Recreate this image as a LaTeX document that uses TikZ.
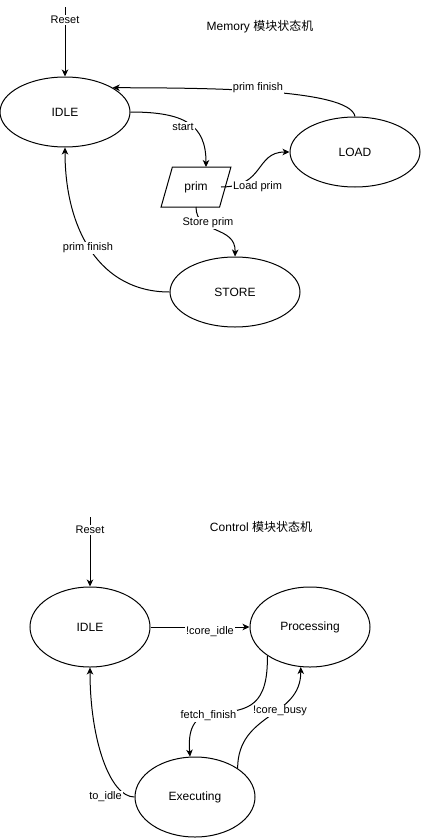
\documentclass[tikz,border=0pt]{standalone}
\usepackage{fontspec}
\setmainfont{Liberation Sans}
\newfontfamily\cjk{Noto Sans CJK SC}
\usetikzlibrary{shapes.geometric,arrows.meta,calc}
\begin{document}
\begin{tikzpicture}[x=1pt,y=-1pt,
  state/.style={ellipse,draw,line width=1pt,minimum width=130pt,minimum height=70pt,inner sep=0pt,font=\fontsize{12}{14}\selectfont},
  cstate/.style={state,minimum width=120pt,minimum height=80pt},
  primbox/.style={trapezium,draw,line width=1pt,trapezium left angle=63.4,trapezium right angle=116.6,trapezium stretches=true,minimum width=70pt,minimum height=40pt,inner sep=0pt,font=\fontsize{12}{14}\selectfont},
  lbl/.style={fill=white,inner sep=1pt,font=\fontsize{11}{13}\selectfont},
  ttl/.style={font=\fontsize{12}{14}\selectfont},
  arr/.style={line width=1pt,-{Stealth[length=7pt,width=6.5pt,inset=2pt]}}]
\useasboundingbox (0,0) rectangle (421,838);

% ---------------- Memory ----------------
\node[ttl] (t1) at (260,27) {Memory {\cjk 模块状态机}};
\node[state] (I1) at (65,112) {IDLE};
\node[state] (L1) at (355,152) {LOAD};
\node[state] (S1) at (235,292) {STORE};
\node[primbox] (P1) at (196,187) {prim};
\coordinate (r1) at (65,7);
\coordinate (p1top) at ($(P1.center)+(10,-20)$);
\coordinate (p1right) at ($(P1.center)+(25,0)$);
\coordinate (p1bot) at ($(P1.center)+(0,20)$);

\draw[arr] (r1) -- (I1.north);
\draw[arr] (I1.east) .. controls (185,112) and (206,125) .. (p1top);
\draw[arr] (p1right) .. controls (265,187) and (255,152) .. (L1.west);
\draw[arr] (p1bot) .. controls (196,235) and (236,225) .. (S1.north);
\draw[arr] (L1.north) .. controls (350,88) and (200,88) .. (I1.27.5);
\draw[arr] (S1.west) .. controls (100,292) and (65,230) .. (I1.south);

\node[lbl] (l1) at (65,20) {Reset};
\node[lbl] (l2) at (183,127) {start};
\node[lbl] (l3) at (257.5,187) {Load prim};
\node[lbl] (l4) at (208,223) {Store prim};
\node[lbl] (l5) at (258,88) {prim finish};
\node[lbl] (l6) at (88,248) {prim finish};

% ---------------- Control ----------------
\node[ttl] (t2) at (261,527) {Control {\cjk 模块状态机}};
\node[cstate] (I2) at (90,627) {IDLE};
\node[cstate] (P2) at (310,627) {Processing};
\node[cstate] (E2) at (195,797) {Executing};
\coordinate (r2) at (90,517);

\draw[arr] (r2) -- (I2.north);
\draw[arr] (I2.east) -- (P2.west);
\draw[arr] (P2.214) .. controls (268,705) and (250,711) .. (215,713) .. controls (192,715) and (188,732) .. (E2.97);
\draw[arr] (E2.34.5) .. controls (238,712) and (301,718) .. (P2.257);
\draw[arr] (E2.west) .. controls (110,797) and (90,740) .. (I2.south);

\node[lbl] (m1) at (90,530) {Reset};
\node[lbl] (m2) at (210,632) {!core\_idle};
\node[lbl] (m3) at (208.5,716) {fetch\_finish};
\node[lbl] (m4) at (280,711) {!core\_busy};
\node[lbl] (m5) at (105.5,797) {to\_idle};
\end{tikzpicture}
\end{document}
